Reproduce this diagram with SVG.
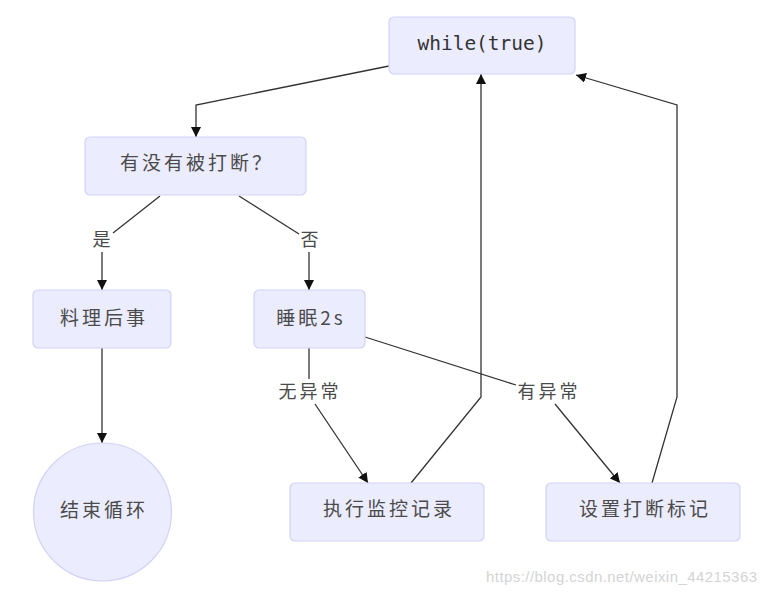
<svg xmlns="http://www.w3.org/2000/svg" width="767" height="594" viewBox="0 0 767 594">
<style>
.node rect, .node circle { fill: #ECECFF; stroke: #D2D2F7; stroke-width: 1.2; }
.t { font-family: "Noto Sans CJK SC", "Noto Sans", sans-serif; font-size: 19px; fill: #4a4a4a; letter-spacing: 3px; text-anchor: middle; dominant-baseline: central; }
.mono { font-family: "DejaVu Sans Mono", monospace; font-size: 19.5px; fill: #333; text-anchor: middle; dominant-baseline: central; }
.lbl { font-family: "Noto Sans CJK SC", "Noto Sans", sans-serif; font-size: 18px; fill: #4a4a4a; letter-spacing: 3px; text-anchor: middle; dominant-baseline: central; }
.edge { fill: none; stroke: #333; stroke-width: 1.3; }
.wm { font-family: "Liberation Sans", Arial, sans-serif; font-size: 15px; fill: #d4d4d4; }
</style>
<defs>
<marker id="arr" markerUnits="userSpaceOnUse" markerWidth="10" markerHeight="10" refX="10" refY="5" orient="auto" viewBox="0 0 10 10">
<path d="M0,0 L10,5 L0,10 z" fill="#111"/>
</marker>
</defs>
<rect width="767" height="594" fill="#fff"/>
<g id="connectors">
<path class="edge" d="M389,66 L196,105 L196,137" marker-end="url(#arr)"/>
<path class="edge" d="M160,196 L113,233"/>
<path class="edge" d="M102,252 L102,290" marker-end="url(#arr)"/>
<path class="edge" d="M239,196 L299,234"/>
<path class="edge" d="M309,252 L309,290" marker-end="url(#arr)"/>
<path class="edge" d="M102,348 L102,443" marker-end="url(#arr)"/>
<path class="edge" d="M309,348 L309,379"/>
<path class="edge" d="M315,404 L368,483" marker-end="url(#arr)"/>
<path class="edge" d="M365,337 L516,385"/>
<path class="edge" d="M555,404 L620,483" marker-end="url(#arr)"/>
<path class="edge" d="M411,483 L481,397 L481,74" marker-end="url(#arr)"/>
<path class="edge" d="M652,483 L677,397 L677,105 L576,75" marker-end="url(#arr)"/>
<text class="lbl" x="103" y="238">是</text>
<text class="lbl" x="311" y="238">否</text>
<text class="lbl" x="310" y="390">无异常</text>
<text class="lbl" x="549" y="390">有异常</text>
</g>
<g id="n-while" class="node">
<rect x="389" y="17" width="186" height="57" rx="5"/>
<text class="mono" x="482" y="43">while(true)</text>
</g>
<g id="n-check" class="node">
<rect x="85" y="137" width="221" height="58" rx="5"/>
<text class="t" x="197" y="161">有没有被打断？</text>
</g>
<g id="n-cleanup" class="node">
<rect x="33" y="290" width="138" height="58" rx="5"/>
<text class="t" x="104" y="316">料理后事</text>
</g>
<g id="n-sleep" class="node">
<rect x="254" y="290" width="111" height="58" rx="5"/>
<text class="t" x="311" y="316">睡眠2s</text>
</g>
<g id="n-end" class="node">
<circle cx="102.5" cy="512" r="69"/>
<text class="t" x="104" y="508">结束循环</text>
</g>
<g id="n-record" class="node">
<rect x="290" y="483" width="194" height="58" rx="5"/>
<text class="t" x="389" y="507">执行监控记录</text>
</g>
<g id="n-flag" class="node">
<rect x="546" y="483" width="194" height="58" rx="5"/>
<text class="t" x="645" y="507">设置打断标记</text>
</g>
<text class="wm" x="486" y="582" textLength="271">https://blog.csdn.net/weixin_44215363</text>
</svg>
